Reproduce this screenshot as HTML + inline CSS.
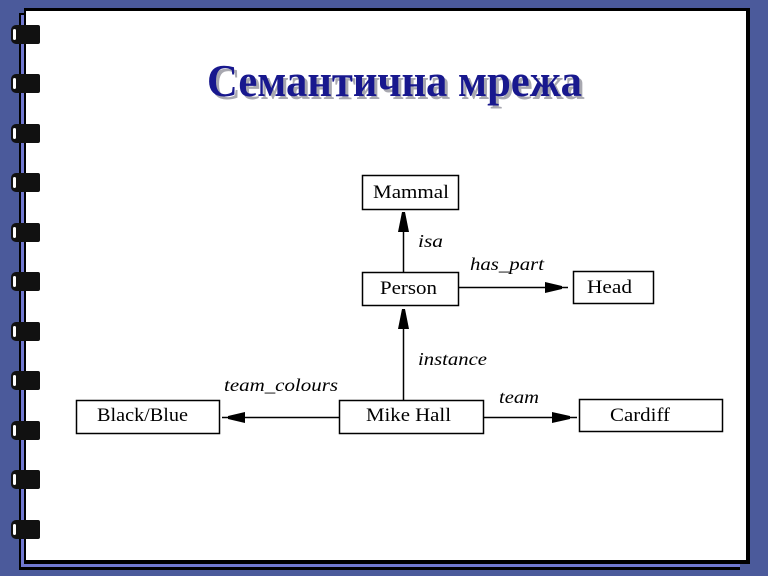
<!DOCTYPE html>
<html><head><meta charset="utf-8"><style>
html,body{margin:0;padding:0;}
body{width:768px;height:576px;background:#4b5a9b;position:relative;overflow:hidden;}
.back{position:absolute;left:19px;top:13px;width:721px;height:554px;background:#7078d0;border-left:2px solid #000;border-top:2px solid #000;border-bottom:3px solid #000;box-sizing:border-box;height:557px;}
.page{position:absolute;left:24px;top:8px;width:726px;height:556px;background:#fff;border-top:3px solid #000;border-right:4px solid #000;border-bottom:4px solid #000;border-left:2px solid #000;box-sizing:border-box;}
.ring{position:absolute;left:11px;width:29px;height:19px;background:#111;border-radius:5px 2px 2px 5px;}
.ring::before{content:"";position:absolute;left:2px;top:4px;width:3px;height:11px;background:#fff;border-radius:2px;}
svg{position:absolute;left:0;top:0;}
</style></head><body>
<div class="back"></div>
<div class="page"></div>
<div class="ring" style="top:25px"></div>
<div class="ring" style="top:74px"></div>
<div class="ring" style="top:124px"></div>
<div class="ring" style="top:173px"></div>
<div class="ring" style="top:223px"></div>
<div class="ring" style="top:272px"></div>
<div class="ring" style="top:322px"></div>
<div class="ring" style="top:371px"></div>
<div class="ring" style="top:421px"></div>
<div class="ring" style="top:470px"></div>
<div class="ring" style="top:520px"></div>
<svg width="768" height="576" viewBox="0 0 768 576" xmlns="http://www.w3.org/2000/svg">
<g font-family="'Liberation Serif', 'Noto Serif CJK SC', serif" font-weight="bold" font-size="45">
<text x="210" y="99" fill="#a8a8b0" textLength="375" lengthAdjust="spacingAndGlyphs">Семантична мрежа</text>
<text x="207" y="96" fill="#18188e" textLength="375" lengthAdjust="spacingAndGlyphs">Семантична мрежа</text>
</g>
<g fill="#fff" stroke="#000" stroke-width="1.5">
<rect x="362.5" y="175.5" width="96" height="34"/>
<rect x="362.5" y="272.5" width="96" height="33"/>
<rect x="573.5" y="271.5" width="80" height="32"/>
<rect x="76.5" y="400.5" width="143" height="33"/>
<rect x="339.5" y="400.5" width="144" height="33"/>
<rect x="579.5" y="399.5" width="143" height="32"/>
</g>
<g stroke="#000" stroke-width="1.5" fill="none">
<line x1="403.5" y1="272" x2="403.5" y2="214"/>
<line x1="403.5" y1="400" x2="403.5" y2="311"/>
<line x1="458" y1="287.5" x2="568" y2="287.5"/>
<line x1="339" y1="417.5" x2="222" y2="417.5"/>
<line x1="483" y1="417.5" x2="577" y2="417.5"/>
</g>
<g fill="#000">
<polygon points="402,212 405,212 409,232 398,232"/>
<polygon points="402,309 405,309 409,329 398,329"/>
<polygon points="545,282 562,286 562,289 545,293"/>
<polygon points="245,412 228,416 228,419 245,423"/>
<polygon points="552,412 570,416 570,419 552,423"/>
</g>
<g font-family="'Liberation Serif', serif" font-size="19" fill="#000">
<text x="373" y="198" textLength="76" lengthAdjust="spacingAndGlyphs">Mammal</text>
<text x="380" y="294" textLength="57" lengthAdjust="spacingAndGlyphs">Person</text>
<text x="587" y="293" textLength="45" lengthAdjust="spacingAndGlyphs">Head</text>
<text x="97" y="421" textLength="91" lengthAdjust="spacingAndGlyphs">Black/Blue</text>
<text x="366" y="421" textLength="85" lengthAdjust="spacingAndGlyphs">Mike Hall</text>
<text x="610" y="421" textLength="60" lengthAdjust="spacingAndGlyphs">Cardiff</text>
</g>
<g font-family="'Liberation Serif', serif" font-style="italic" font-size="18" fill="#000">
<text x="418" y="247" textLength="25" lengthAdjust="spacingAndGlyphs">isa</text>
<text x="470" y="270" textLength="74" lengthAdjust="spacingAndGlyphs">has_part</text>
<text x="418" y="365" textLength="69" lengthAdjust="spacingAndGlyphs">instance</text>
<text x="224" y="391" textLength="114" lengthAdjust="spacingAndGlyphs">team_colours</text>
<text x="499" y="403" textLength="40" lengthAdjust="spacingAndGlyphs">team</text>
</g>
</svg>
</body></html>
